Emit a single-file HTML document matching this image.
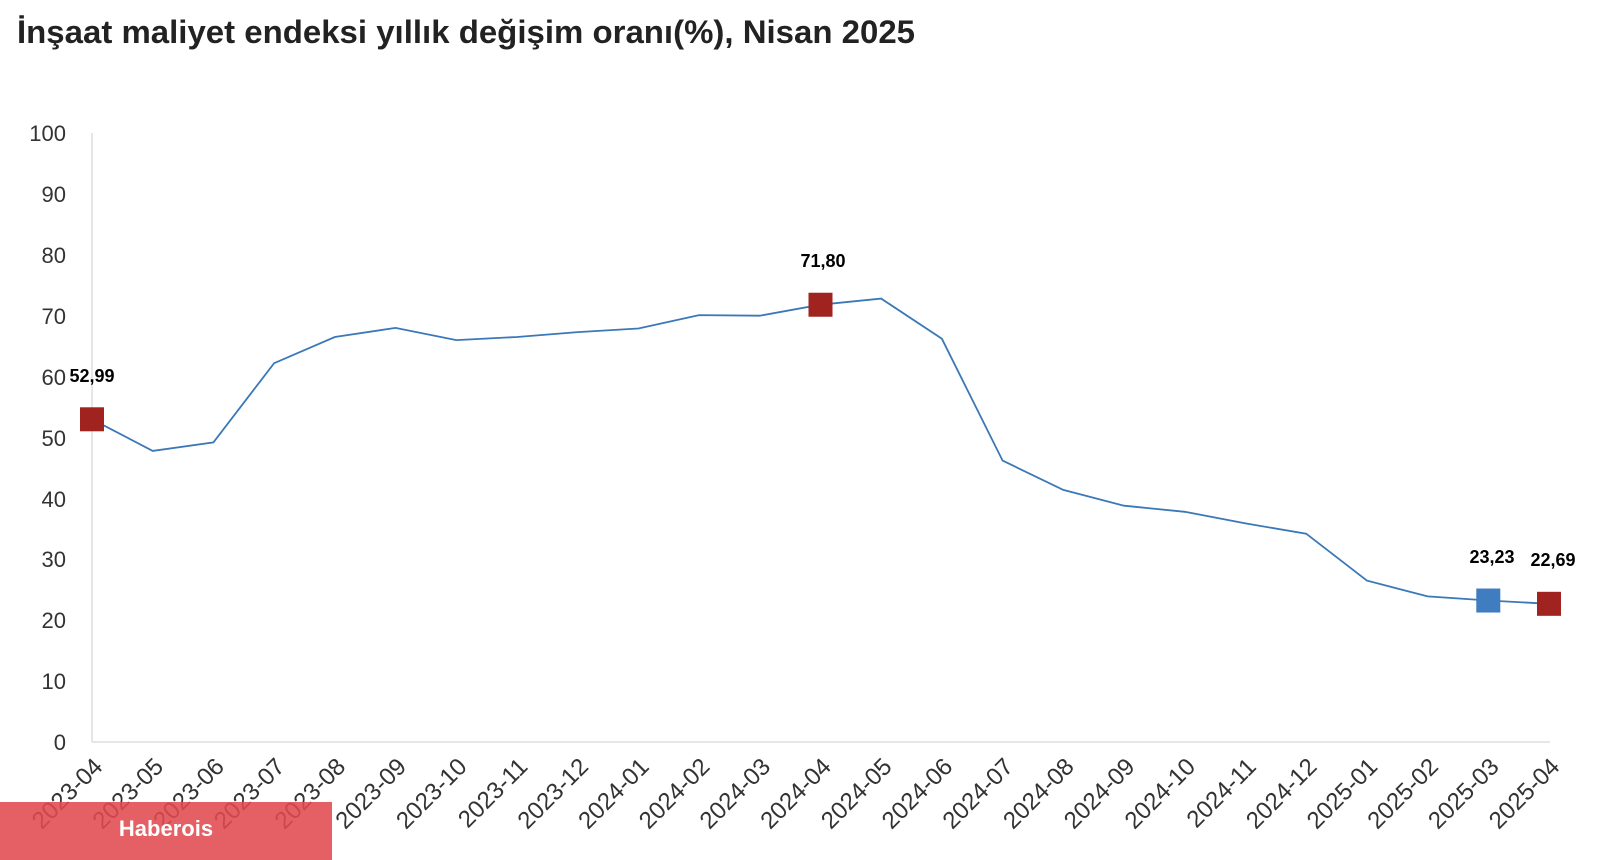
<!DOCTYPE html>
<html><head><meta charset="utf-8"><style>
html,body{margin:0;padding:0;background:#fff;width:1600px;height:860px;overflow:hidden}
</style></head><body>
<svg width="1600" height="860" xmlns="http://www.w3.org/2000/svg" font-family="Liberation Sans, Arial, sans-serif">
<text x="17" y="43" font-size="32" font-weight="bold" fill="#222" textLength="898" lengthAdjust="spacingAndGlyphs">İnşaat maliyet endeksi yıllık değişim oranı(%), Nisan 2025</text>
<line x1="92" y1="133" x2="92" y2="742" stroke="#ddd" stroke-width="1.5"/>
<line x1="92" y1="742" x2="1550" y2="742" stroke="#ddd" stroke-width="1.5"/>
<g font-size="22" fill="#333" text-anchor="end">
<text x="66" y="750">0</text><text x="66" y="689">10</text><text x="66" y="628">20</text><text x="66" y="567">30</text><text x="66" y="507">40</text><text x="66" y="446">50</text><text x="66" y="385">60</text><text x="66" y="324">70</text><text x="66" y="263">80</text><text x="66" y="202">90</text><text x="66" y="141">100</text>
</g>
<g id="labels" font-size="24" fill="#333" text-anchor="end"></g>
<rect x="0" y="802" width="332" height="58" fill="#e04a50" opacity="0.88"/>
<text x="166" y="836" font-size="22" font-weight="bold" fill="#fff" text-anchor="middle">Haberois</text>
<polyline id="ln" fill="none" stroke="#3b78b8" stroke-width="1.8"/>
<g id="mk"></g>
<g font-size="18" font-weight="bold" fill="#000" text-anchor="middle">
<text x="92" y="382">52,99</text>
<text x="823" y="267">71,80</text>
<text x="1492" y="563">23,23</text>
<text x="1553" y="566">22,69</text>
</g>
<script>
var v=[52.99,47.8,49.2,62.2,66.5,68,66,66.5,67.3,67.9,70.1,70,71.8,72.8,66.2,46.2,41.4,38.8,37.8,35.9,34.2,26.5,23.9,23.23,22.69];
var labs=[];for(var y=2023,m=4;labs.length<25;){labs.push(y+'-'+(m<10?'0':'')+m);m++;if(m>12){m=1;y++;}}
var X=function(i){return 92+i*(1457/24)},Y=function(d){return 742-d*6.09};
var pts=v.map(function(d,i){return X(i).toFixed(1)+','+Y(d).toFixed(1)}).join(' ');
document.getElementById('ln').setAttribute('points',pts);
var ns='http://www.w3.org/2000/svg';
var lg=document.getElementById('labels');
labs.forEach(function(l,i){var t=document.createElementNS(ns,'text');var x=X(i)+12,y=768;
t.setAttribute('x',x);t.setAttribute('y',y);t.setAttribute('transform','rotate(-45 '+x+' '+y+')');t.textContent=l;
lg.appendChild(t);});
var mk=document.getElementById('mk');
[[0,'#a0231f'],[12,'#a0231f'],[23,'#3f7cc0'],[24,'#a0231f']].forEach(function(p){var r=document.createElementNS(ns,'rect');
r.setAttribute('x',X(p[0])-12);r.setAttribute('y',Y(v[p[0]])-12);r.setAttribute('width',24);r.setAttribute('height',24);r.setAttribute('fill',p[1]);mk.appendChild(r);});
</script>
</svg>
</body></html>
